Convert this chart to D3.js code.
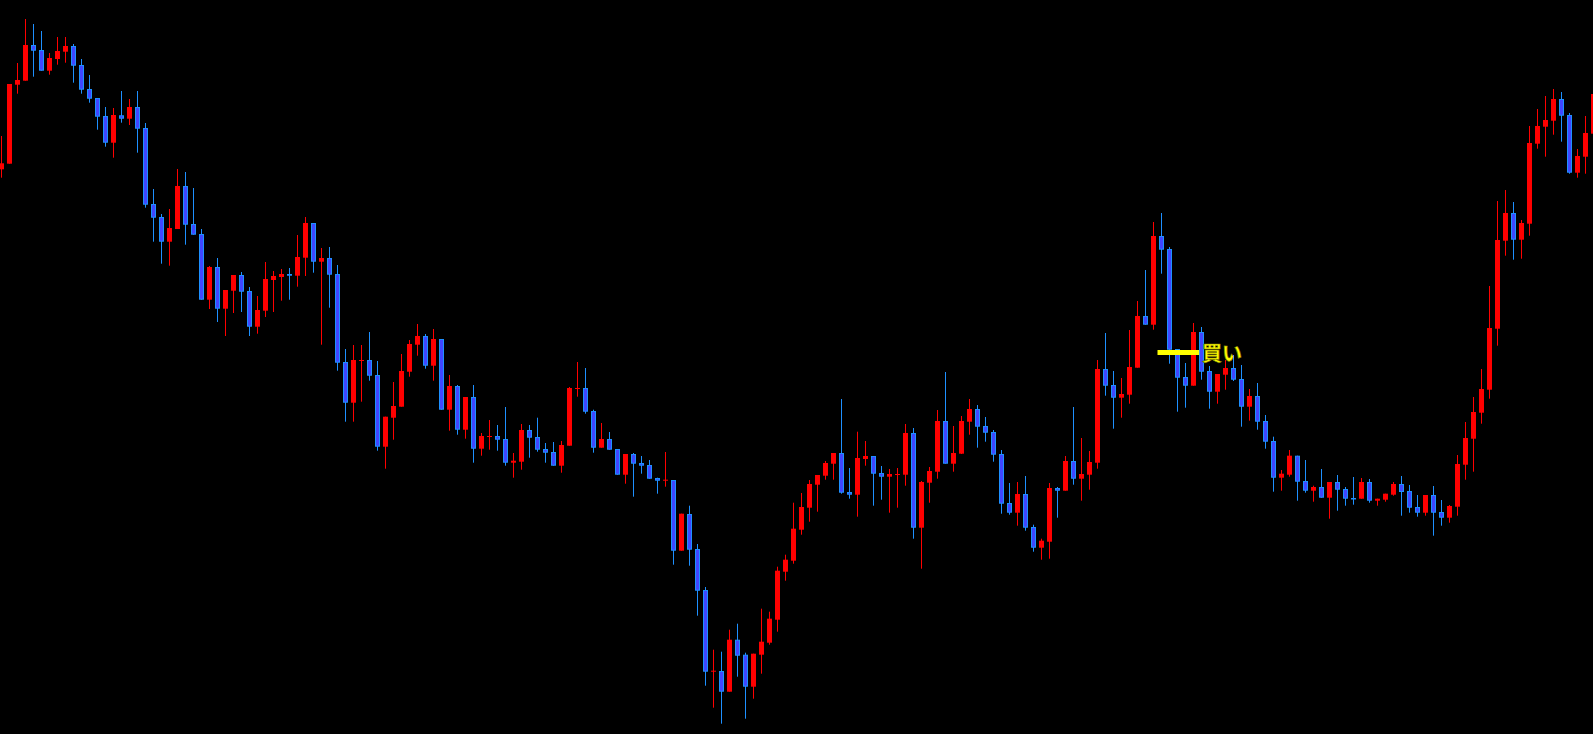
<!DOCTYPE html>
<html>
<head>
<meta charset="utf-8">
<script src="https://cdn.jsdelivr.net/npm/d3@7"></script>
<style>
html,body{margin:0;padding:0;background:#000;overflow:hidden;}
svg{display:block;}
</style>
</head>
<body>
<svg id="chart" width="1593" height="734"></svg>
<script>
const open = [564.7,570.3,649.3,653.3,689,684,663.3,675,682.3,688,669,645,636,618,591.3,618.7,615.3,627,606,530,
517,492.3,505,548,510,500,434.3,467,425.3,443.3,459,443,407.3,423.3,454,457,460,458.3,476.3,511,
472.3,476,460,372,331.3,373,374,359,287.3,316.3,327.3,362.3,389.3,398,368.3,395,324.3,348,304.3,337,
285.3,297,298,295,271.3,272.3,304,297,285,282,268.3,288.3,345,346,323,286.3,295,285,259.3,280,
271,269,256,253.3,254,183.3,220,185,144,62.3,63,42.3,94.3,79.3,47.3,79.3,91.3,114.3,162.3,173.3,
204.3,226.3,249.3,258.3,270.3,281,242,239.3,275,278,261,257.3,259,259.3,301,206.3,251.3,262.3,313,270.3,
280.3,312.3,325,308,302,280,231,221.3,240,207,186.3,192.3,246,243.3,273,255.3,259.3,271.3,365,349,
336.3,339.3,366.3,418,409.3,498,485,385,357,348.3,402,363,342.3,359.3,366,355,327.3,338,313,293,
256.3,259.3,278.3,253,243.3,247,236.3,252,245,236,235.3,252,233.3,234.3,239.3,250,243,227,221.3,239,
222,216.3,227.3,269.3,295.3,321.3,344.3,405.3,493.3,521,494.3,510.3,590.3,607.3,613.3,635,619,561.3,577.3,600.3];
const high = [598,650,671,715,710,703,681,697,697,690,675,659,636,627,626,643,635,643,611,545,
520,525,565,562,546,505,468,476,444,459,462,447,438,472,463,465,466,499,517,511,
486,487,469,385,389,389,402,373,317.3,352,380,394,410,400,405,395,359,349,337,349,
301,314,309,327,281,310,309,316.3,291,292,293,347,372,366,324.3,311,302,285,280,281,
278,274,256.3,282,254,220.3,228.3,190,147,84.3,82.3,104.3,110.3,81.3,80.3,125.3,122.3,167.3,179.3,231.3,
241,254,259,273,281,335,266,302.3,293,278,268,265,266,310,306,253,267,324,362,308,
318,335,329,317,304,284,251,252,258,209.3,195.3,251,247,278,327,296,283,374,401,363,
356,404,433,464,512,521,487,385,371,411,407,368,360,374,379,369,345,351,319,297.3,
264,284,278.3,274,248.3,265,252,259,247,257,256,255,235.3,240.3,252,258,249,239,239,248,
234,229,279,312,337,365,448,533,544,532,514,608,625,638,645,642,621,585,618,642];
const low = [556.3,570.3,640.3,653.3,657.3,663.3,659.3,669.3,671.3,651.3,640.3,631.3,604.3,587.3,576.3,611.3,609,581.3,526.3,492.3,
470.3,468.3,505,489.3,499.3,434.3,425,412,398,421,422,398,400.3,417,422,433.3,434.3,447.3,458,461.3,
389.3,426.3,363.3,312.3,312.3,332.3,353.3,283.3,265.3,294.3,327.3,357.3,378.3,365.3,353.3,324.3,303.3,299.3,295.3,271.3,
278.3,284.3,283.3,268.3,256.3,264.3,276.3,282.3,271.3,268.3,261.3,288.3,337.3,320.3,281.3,286.3,284.3,259.3,250.3,237.3,
260.3,255.3,240.3,247.3,169.3,183.3,168.3,118.3,48.3,26.3,10.3,42.3,57.3,15.3,35.3,60.3,89.3,102.3,153.3,170.3,
199.3,212.3,222.3,254.3,254.3,240.3,235.3,217.3,268.3,228.3,234.3,221.3,226.3,248.3,195.3,165.3,231.3,255.3,270.3,262.3,
280,299.3,286.3,292.3,272.3,220.3,219.3,208.3,203.3,182.3,174.3,175.3,216.3,243.3,249.3,233.3,244.3,265.3,338.3,305.3,
316.3,330.3,366.3,409.3,404.3,460.3,370.3,322.3,326.3,348.3,354.3,325.3,330.3,344.3,353,307.3,313.3,304.3,285.3,242.3,
243.3,257.3,233.3,241.3,232.3,236.3,215.3,223.3,228.3,229.3,235.3,231.3,228.3,232.3,238.3,218.3,221.3,217.3,218.3,198.3,
208.3,211.3,218.3,254.3,262.3,310.3,335.3,388.3,478.3,474.3,475.3,498.3,585.3,577.3,599.3,592.3,560.3,556.3,560.3,600];
const close = [570.7,650,654,689,683.3,663.3,676,683,688,668.3,644.3,635.3,617.3,591.3,619,615.3,627,605.3,529.3,516.3,
492.3,506,548,509.3,499.3,434.3,467,425.3,444,459,442.3,407.3,424,455,458,460,458.3,477,511,472.3,
476,459.3,371.3,331.3,374,374,358.3,287.3,317.3,328,363,390,398,368.3,395,324.3,348,304.3,337,285.3,
298,298,294.3,271.3,273.3,304,296.3,284.3,281.3,268.3,289,346,346,322.3,286.3,295,284.3,259.3,280,270.3,
268.3,255.3,253.3,254.3,183.3,220.3,184.3,143.3,62.3,63.3,42.3,94.3,78.3,47.3,80.3,92.3,115.3,163.3,174.3,205.3,
227,250,259,271,281,241.3,239.3,276,278,260.3,257.3,260,260,301,206.3,252,263,313,270.3,281,
313,325,307.3,301.3,279.3,230.3,221.3,240,206.3,186.3,193.3,246,243.3,273,255.3,260,272,365,348.3,336.3,
340,367,418,409.3,498,484.3,384.3,356.3,348.3,402,362.3,342.3,360,366,354.3,327.3,338,312.3,292.3,256.3,
260.3,278.3,252.3,243.3,247,236.3,252,244.3,235.3,235.3,252,233.3,235.3,240.3,250,242,226.3,221.3,239,221.3,
216.3,228,270,296,322,345,406,494,521,494.3,511,591,608,614,635,618.3,561.3,578,601,640];

const buyLabel = "買い";
const buyLevel = 381.5;
const buyFrom = 144.5;
const buyTo = 149.7;

const W = 1593, H = 734;
const svg = d3.select("#chart");
svg.append("rect").attr("width", W).attr("height", H).attr("fill", "#000");

const idx = d3.range(open.length);
const x = d3.scaleLinear().domain([0, open.length - 1]).range([1.5, 1.5 + 8 * (open.length - 1)]);
const y = d3.scaleLinear().domain([0, 734]).range([734, 0]);

const RED = "#ff0000", BLUE_FILL = "#4046ff", BLUE_EDGE = "#1e90ff";
const up = i => close[i] >= open[i] && !(close[i] === open[i]);

const g = svg.append("g");
const c = g.selectAll("g.candle").data(idx).join("g").attr("class", "candle");

c.append("line")
  .attr("x1", i => x(i)).attr("x2", i => x(i))
  .attr("y1", i => y(high[i])).attr("y2", i => y(low[i]))
  .attr("stroke", i => up(i) ? RED : BLUE_EDGE)
  .attr("stroke-width", 1);

c.append("rect")
  .attr("x", i => up(i) ? x(i) - 2.5 : x(i) - 2)
  .attr("y", i => {
    const t = y(Math.max(open[i], close[i]));
    return up(i) ? t : t + 0.5;
  })
  .attr("width", i => up(i) ? 5 : 4)
  .attr("height", i => {
    const h = Math.max(1, Math.abs(y(open[i]) - y(close[i])));
    return up(i) ? h : Math.max(0.5, h - 1);
  })
  .attr("fill", i => up(i) ? RED : BLUE_FILL)
  .attr("stroke", i => up(i) ? "none" : BLUE_EDGE)
  .attr("stroke-width", 1);

// buy marker
svg.append("line")
  .attr("x1", x(buyFrom)).attr("x2", x(buyTo))
  .attr("y1", y(buyLevel)).attr("y2", y(buyLevel))
  .attr("stroke", "#ffff00").attr("stroke-width", 5);

svg.append("text")
  .attr("x", x(buyTo) + 3)
  .attr("y", y(buyLevel) + 8)
  .attr("fill", "#ffff00")
  .attr("stroke", "#807a00")
  .attr("stroke-width", 0.6)
  .attr("font-family", "'Noto Sans CJK JP', 'Noto Sans', sans-serif")
  .attr("font-weight", "bold")
  .attr("font-size", 20)
  .text(buyLabel);
</script>
</body>
</html>
